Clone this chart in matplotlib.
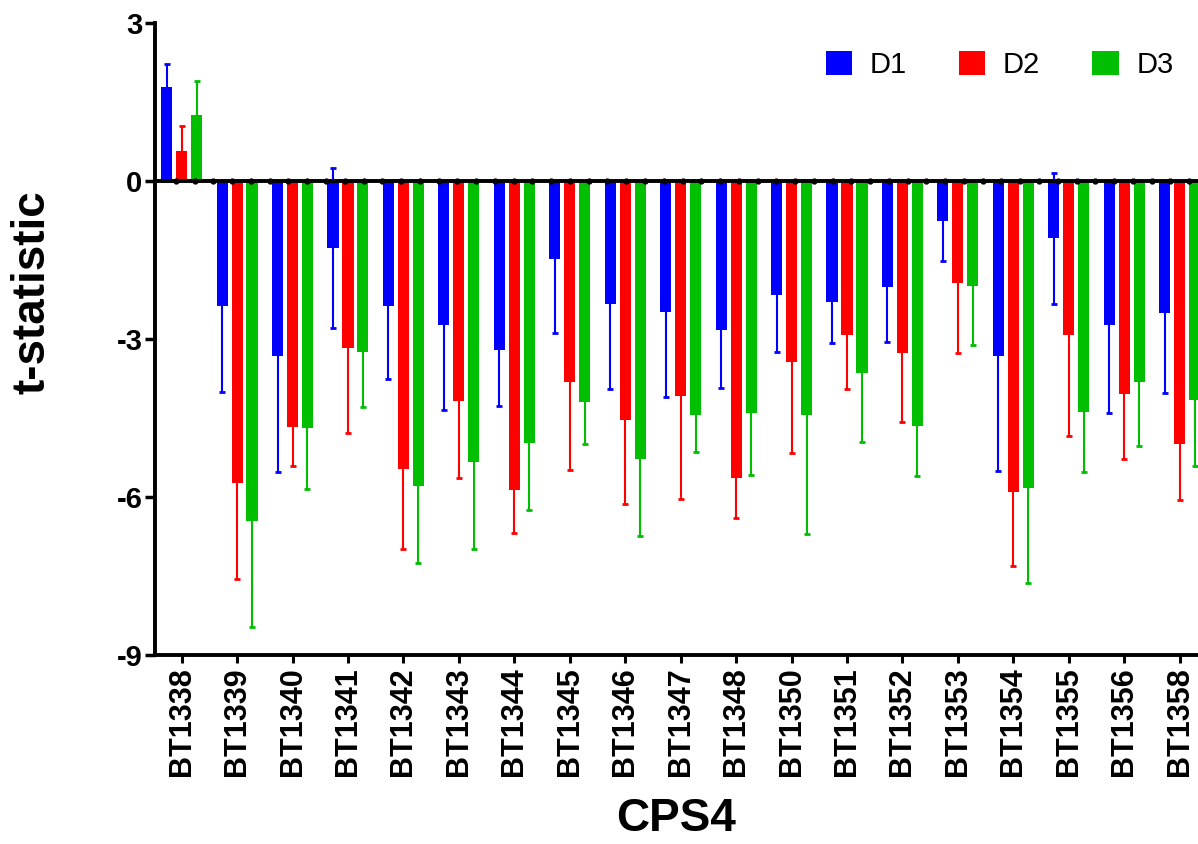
import numpy as np
import matplotlib
matplotlib.use('Agg')
import matplotlib.pyplot as plt

plt.rcParams['font.family'] = ['Liberation Sans', 'DejaVu Sans']

# 数据
genes = ['BT1338', 'BT1339', 'BT1340', 'BT1341', 'BT1342', 'BT1343', 'BT1344',
         'BT1345', 'BT1346', 'BT1347', 'BT1348', 'BT1350', 'BT1351', 'BT1352',
         'BT1353', 'BT1354', 'BT1355', 'BT1356', 'BT1358']
d1 = [1.79, -2.37, -3.33, -1.28, -2.37, -2.73, -3.20, -1.48, -2.33, -2.49,
      -2.82, -2.16, -2.30, -2.01, -0.75, -3.32, -1.09, -2.73, -2.51]
d1_err = [0.44, 1.63, 2.19, 1.52, 1.39, 1.61, 1.08, 1.41, 1.62, 1.61,
          1.11, 1.09, 0.77, 1.04, 0.77, 2.19, 1.24, 1.67, 1.52]
d2 = [0.57, -5.74, -4.68, -3.18, -5.47, -4.17, -5.87, -3.81, -4.53, -4.08,
      -5.63, -3.44, -2.93, -3.27, -1.94, -5.90, -2.93, -4.04, -4.99]
d2_err = [0.48, 1.82, 0.73, 1.61, 1.52, 1.46, 0.81, 1.68, 1.60, 1.96,
          0.77, 1.72, 1.01, 1.30, 1.33, 1.41, 1.92, 1.24, 1.06]
d3 = [1.26, -6.45, -4.69, -3.25, -5.80, -5.33, -4.98, -4.19, -5.28, -4.44,
      -4.41, -4.45, -3.65, -4.65, -2.00, -5.82, -4.38, -3.82, -4.15]
d3_err = [0.63, 2.01, 1.16, 1.05, 1.45, 1.66, 1.27, 0.81, 1.46, 0.70,
          1.18, 2.26, 1.30, 0.96, 1.11, 1.81, 1.14, 1.21, 1.26]
series = ['D1', 'D2', 'D3']
colors = ['#0000ff', '#ff0000', '#00bf00']

fig = plt.figure(figsize=(11.98, 8.44), dpi=100)
ax = fig.add_axes([155 / 1198, 1 - 655 / 844, 1 - 155 / 1198, (655 - 23) / 844])

x = np.arange(len(genes))
offset = 0.27
width = 0.2
for k, (vals, errs, name, c) in enumerate(zip([d1, d2, d3], [d1_err, d2_err, d3_err], series, colors)):
    xs = x + (k - 1) * offset
    # 误差线画在柱子下面，只露出远离0的一侧
    ax.errorbar(xs, vals, yerr=errs, fmt='none', ecolor=c, elinewidth=1.5,
                capsize=2.5, capthick=2, zorder=1)
    ax.bar(xs, vals, width=width, color=c, label=name, zorder=2)

# 0 线和上面的小圆点
ax.axhline(0, color='black', linewidth=2.8, zorder=3)
dots_x = np.linspace(-0.103, 18.17, 55)
ax.plot(dots_x, np.zeros_like(dots_x), 'o', color='black', markersize=3.5, zorder=4)

ax.set_xlim(-0.48, 18.33)
ax.set_ylim(-9, 3)
ax.set_yticks([3, 0, -3, -6, -9])
ax.set_yticklabels(['3', '0', '-3', '-6', '-9'], fontsize=21, fontweight='bold')
ax.set_xticks(x)
ax.set_xticklabels(genes, rotation=90, fontsize=22, fontweight='bold')

for s in ['top', 'right']:
    ax.spines[s].set_visible(False)
for s in ['left', 'bottom']:
    ax.spines[s].set_linewidth(2.8)
ax.tick_params(axis='y', length=7, width=2.5, pad=2)
ax.tick_params(axis='x', length=6, width=2.2, pad=3)

fig.text(33 / 1198, 1 - 292 / 844, 't-statistic', rotation=90, ha='center', va='center',
         fontsize=33, fontweight='bold')
fig.text(676 / 1198, 1 - 819 / 844, 'CPS4', ha='center', va='center',
         fontsize=33, fontweight='bold')

leg = ax.legend(loc='center left', bbox_to_anchor=((811 - 155) / 1043, (655 - 65) / 632),
                ncol=3, frameon=False, fontsize=21, borderpad=0,
                handlelength=0.9, handleheight=0.9, handletextpad=0.6, columnspacing=1.8)

plt.savefig('out.png', dpi=100, facecolor='white')
plt.close()
